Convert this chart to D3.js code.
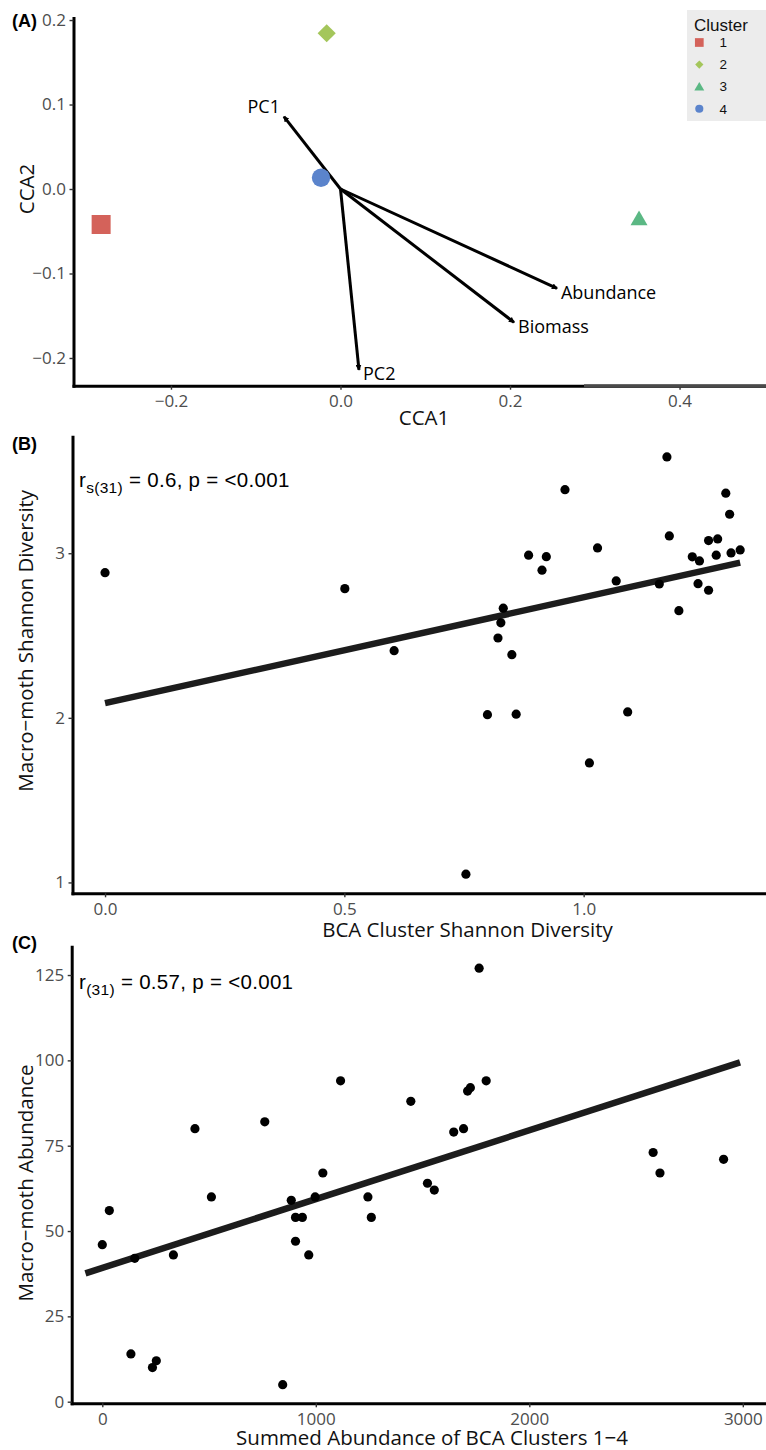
<!DOCTYPE html>
<html><head><meta charset="utf-8">
<script src="https://cdn.jsdelivr.net/npm/d3@7"></script>
<style>
html,body{margin:0;padding:0;background:#fff;}
svg{display:block;}
</style></head><body>
<svg id="chart" width="766" height="1450"></svg>
<script>
// ---------- Panel A data ----------
const clusterIds = ["1", "2", "3", "4"];
const clusterCCA1 = [-0.2824, -0.0163, 0.3522, -0.0230];
const clusterCCA2 = [-0.0420, 0.1843, -0.0370, 0.0134];
const vectorNames = ["PC1", "PC2", "Abundance", "Biomass"];
const vectorCCA1 = [-0.0667, 0.0218, 0.2554, 0.2047];
const vectorCCA2 = [0.0856, -0.2140, -0.1175, -0.1578];
const cca1Ticks = [-0.2, 0, 0.2, 0.4];
const cca2Ticks = [-0.2, -0.1, 0, 0.1, 0.2];

// ---------- Panel B data ----------
const bcaShannon = [0, 0.501, 0.604, 0.754, 0.799, 0.821, 0.827, 0.832, 0.850, 0.859, 0.885, 0.913, 0.922, 0.961, 1.012, 1.029, 1.068, 1.092, 1.174, 1.179, 1.158, 1.199, 1.227, 1.242, 1.239, 1.261, 1.261, 1.280, 1.277, 1.308, 1.327, 1.305, 1.297];
const mothShannon = [2.882, 2.785, 2.408, 1.050, 2.019, 2.485, 2.577, 2.666, 2.384, 2.022, 2.988, 2.897, 2.979, 3.386, 1.726, 3.032, 2.832, 2.036, 3.585, 3.105, 2.813, 2.651, 2.978, 2.953, 2.815, 2.775, 3.077, 3.087, 2.988, 3.002, 3.020, 3.237, 3.365];
const fitShannonX = [0, 1.327];
const fitShannonY = [2.089, 2.943];
const shannonXTicks = [0, 0.5, 1.0];
const shannonYTicks = [1, 2, 3];

// ---------- Panel C data ----------
const bcaAbundance = [0, 33, 134, 152, 235, 253, 333, 434, 511, 761, 845, 885, 905, 905, 937, 967, 997, 1033, 1116, 1244, 1260, 1445, 1523, 1555, 1646, 1692, 1711, 1724, 1765, 1798, 2580, 2612, 2910];
const mothAbundance = [46, 56, 14, 42, 10, 12, 43, 80, 60, 82, 5, 59, 54, 47, 54, 43, 60, 67, 94, 60, 54, 88, 64, 62, 79, 80, 91, 92, 127, 94, 73, 67, 71];
const fitAbundX = [-79, 2987];
const fitAbundY = [37.6, 99.4];
const abundXTicks = [0, 1000, 2000, 3000];
const abundYTicks = [0, 25, 50, 75, 100, 125];

// ---------- styles ----------
const clusterColors = ["#d4625a", "#a4c65b", "#5bb884", "#5b84cc"];
const AXIS_FONT = "'Open Sans', 'Noto Sans', sans-serif";
const ANN_FONT = "'Liberation Sans', Arial, sans-serif";

const svg = d3.select("#chart");

// ---------- scales ----------
const xA = d3.scaleLinear().domain([-0.315, 0.502]).range([73.5, 766]);
const yA = d3.scaleLinear().domain([-0.2328, 0.2024]).range([385.7, 18]);
const xB = d3.scaleLinear().domain([-0.068, 1.381]).range([72.5, 766]);
const yB = d3.scaleLinear().domain([0.934, 3.708]).range([893.3, 436.7]);
const xC = d3.scaleLinear().domain([-143.3, 3108.6]).range([71.7, 766]);
const yC = d3.scaleLinear().domain([-0.47, 133.3]).range([1403.3, 946.7]);

function drawAxes(x, y, xt, yt, fx, fy) {
  const gx = svg.append("g")
    .attr("transform", `translate(0,${y.range()[0]})`)
    .call(d3.axisBottom(x).tickValues(xt).tickFormat(fx).tickSize(4).tickSizeOuter(0).tickPadding(5.5));
  const gy = svg.append("g")
    .attr("transform", `translate(${x.range()[0]},0)`)
    .call(d3.axisLeft(y).tickValues(yt).tickFormat(fy).tickSize(4).tickSizeOuter(0).tickPadding(3.5));
  [gx, gy].forEach(g => {
    g.attr("font-family", AXIS_FONT).attr("font-size", 17);
    g.select(".domain").attr("stroke", "#000").attr("stroke-width", 3).attr("stroke-linecap", "square");
    g.selectAll(".tick line").attr("stroke", "#333").attr("stroke-width", 1.4);
    g.selectAll(".tick text").attr("fill", "#4d4d4d");
  });
  return [gx, gy];
}

function axisTitle(text, x, y, rotate) {
  const t = svg.append("text")
    .attr("font-family", AXIS_FONT).attr("font-size", 20.5).attr("fill", "#111")
    .attr("text-anchor", "middle").text(text);
  if (rotate) t.attr("transform", `translate(${x},${y}) rotate(-90)`);
  else t.attr("x", x).attr("y", y);
}

function panelLabel(text, x, y) {
  svg.append("text").attr("x", x).attr("y", y)
    .attr("font-family", ANN_FONT).attr("font-weight", "bold").attr("font-size", 18)
    .attr("fill", "#000").text(text);
}

// ================= Panel A =================
drawAxes(xA, yA, cca1Ticks, cca2Ticks, d3.format(".1f"), d3.format(".1f"));
// lighter tail of the x axis line, as in the reference
svg.append("line").attr("x1", 584).attr("x2", 766).attr("y1", yA.range()[0]).attr("y2", yA.range()[0])
  .attr("stroke", "#4a4a4a").attr("stroke-width", 3);

axisTitle("CCA1", 424, 425, false);
axisTitle("CCA2", 33.5, yA(0), true);
panelLabel("(A)", 12, 27);

// arrowhead marker
svg.append("defs").append("marker")
  .attr("id", "ah").attr("markerUnits", "userSpaceOnUse")
  .attr("viewBox", "0 -3 6 6").attr("refX", 5).attr("refY", 0)
  .attr("markerWidth", 6).attr("markerHeight", 6).attr("orient", "auto")
  .append("path").attr("d", "M0,-3L6,0L0,3Z").attr("fill", "#000");

const vecG = svg.append("g");
vectorNames.forEach((name, i) => {
  vecG.append("line")
    .attr("x1", xA(0)).attr("y1", yA(0))
    .attr("x2", xA(vectorCCA1[i])).attr("y2", yA(vectorCCA2[i]))
    .attr("stroke", "#000").attr("stroke-width", 3).attr("marker-end", "url(#ah)");
  const left = vectorCCA1[i] < 0;
  vecG.append("text")
    .attr("x", xA(vectorCCA1[i]) + (left ? -4 : 4))
    .attr("y", yA(vectorCCA2[i]) + (left ? -3.5 : 10.5))
    .attr("text-anchor", left ? "end" : "start")
    .attr("font-family", AXIS_FONT).attr("font-size", 18).attr("fill", "#000")
    .text(name);
});

const shapes = [
  {type: d3.symbolSquare, size: 361, rot: 0},
  {type: d3.symbolSquare, size: 165, rot: 45},
  {type: d3.symbolTriangle, size: 125, rot: 0},
  {type: d3.symbolCircle, size: 266, rot: 0}
];
const legShapes = [
  {type: d3.symbolSquare, size: 76, rot: 0},
  {type: d3.symbolSquare, size: 34, rot: 45},
  {type: d3.symbolTriangle, size: 43, rot: 0},
  {type: d3.symbolCircle, size: 52, rot: 0}
];
clusterIds.forEach((id, i) => {
  svg.append("path")
    .attr("d", d3.symbol().type(shapes[i].type).size(shapes[i].size)())
    .attr("transform", `translate(${xA(clusterCCA1[i])},${yA(clusterCCA2[i])}) rotate(${shapes[i].rot})`)
    .attr("fill", clusterColors[i]);
});

// legend
const leg = svg.append("g");
leg.append("rect").attr("x", 687).attr("y", 10).attr("width", 90).attr("height", 111).attr("fill", "#ececec");
leg.append("text").attr("x", 694).attr("y", 31).attr("font-family", ANN_FONT).attr("font-size", 17)
  .attr("fill", "#111").text("Cluster");
const legY = d3.scalePoint().domain(clusterIds).range([42.5, 108.7]);
clusterIds.forEach((id, i) => {
  leg.append("path")
    .attr("d", d3.symbol().type(legShapes[i].type).size(legShapes[i].size)())
    .attr("transform", `translate(699.3,${legY(id) + (i === 2 ? 1 : 0)}) rotate(${legShapes[i].rot})`)
    .attr("fill", clusterColors[i]);
  leg.append("text").attr("x", 719.5).attr("y", legY(id)).attr("dy", "0.36em")
    .attr("font-family", ANN_FONT).attr("font-size", 13.5).attr("fill", "#111").text(id);
});

// ================= Panel B =================
drawAxes(xB, yB, shannonXTicks, shannonYTicks, d3.format(".1f"), d3.format("d"));
axisTitle("BCA Cluster Shannon Diversity", 467.5, 937, false);
axisTitle("Macro\u2212moth Shannon Diversity", 32.5, 640.8, true);
panelLabel("(B)", 12, 450);

svg.append("line")
  .attr("x1", xB(fitShannonX[0])).attr("y1", yB(fitShannonY[0]))
  .attr("x2", xB(fitShannonX[1])).attr("y2", yB(fitShannonY[1]))
  .attr("stroke", "#1c1c1c").attr("stroke-width", 6.5);
svg.append("g").selectAll("circle").data(bcaShannon).join("circle")
  .attr("cx", (d) => xB(d)).attr("cy", (d, i) => yB(mothShannon[i])).attr("r", 4.6).attr("fill", "#000");

const annB = svg.append("text").attr("x", 79).attr("y", 487)
  .attr("font-family", ANN_FONT).attr("font-size", 20.5).attr("letter-spacing", 0.3).attr("fill", "#000");
annB.append("tspan").text("r");
annB.append("tspan").attr("font-size", 15.5).attr("dy", 6).text("s(31)");
annB.append("tspan").attr("dy", -6).text(" = 0.6, p = <0.001");

// ================= Panel C =================
drawAxes(xC, yC, abundXTicks, abundYTicks, d3.format("d"), d3.format("d"));
axisTitle("Summed Abundance of BCA Clusters 1\u22124", 432, 1445, false);
axisTitle("Macro\u2212moth Abundance", 32.5, 1183, true);
panelLabel("(C)", 12, 949);

svg.append("line")
  .attr("x1", xC(fitAbundX[0])).attr("y1", yC(fitAbundY[0]))
  .attr("x2", xC(fitAbundX[1])).attr("y2", yC(fitAbundY[1]))
  .attr("stroke", "#1c1c1c").attr("stroke-width", 6.5);
svg.append("g").selectAll("circle").data(bcaAbundance).join("circle")
  .attr("cx", (d) => xC(d)).attr("cy", (d, i) => yC(mothAbundance[i])).attr("r", 4.6).attr("fill", "#000");

const annC = svg.append("text").attr("x", 79).attr("y", 988.5)
  .attr("font-family", ANN_FONT).attr("font-size", 20.5).attr("letter-spacing", 0.3).attr("fill", "#000");
annC.append("tspan").text("r");
annC.append("tspan").attr("font-size", 15.5).attr("dy", 6).text("(31)");
annC.append("tspan").attr("dy", -6).text(" = 0.57, p = <0.001");
</script>
</body></html>
